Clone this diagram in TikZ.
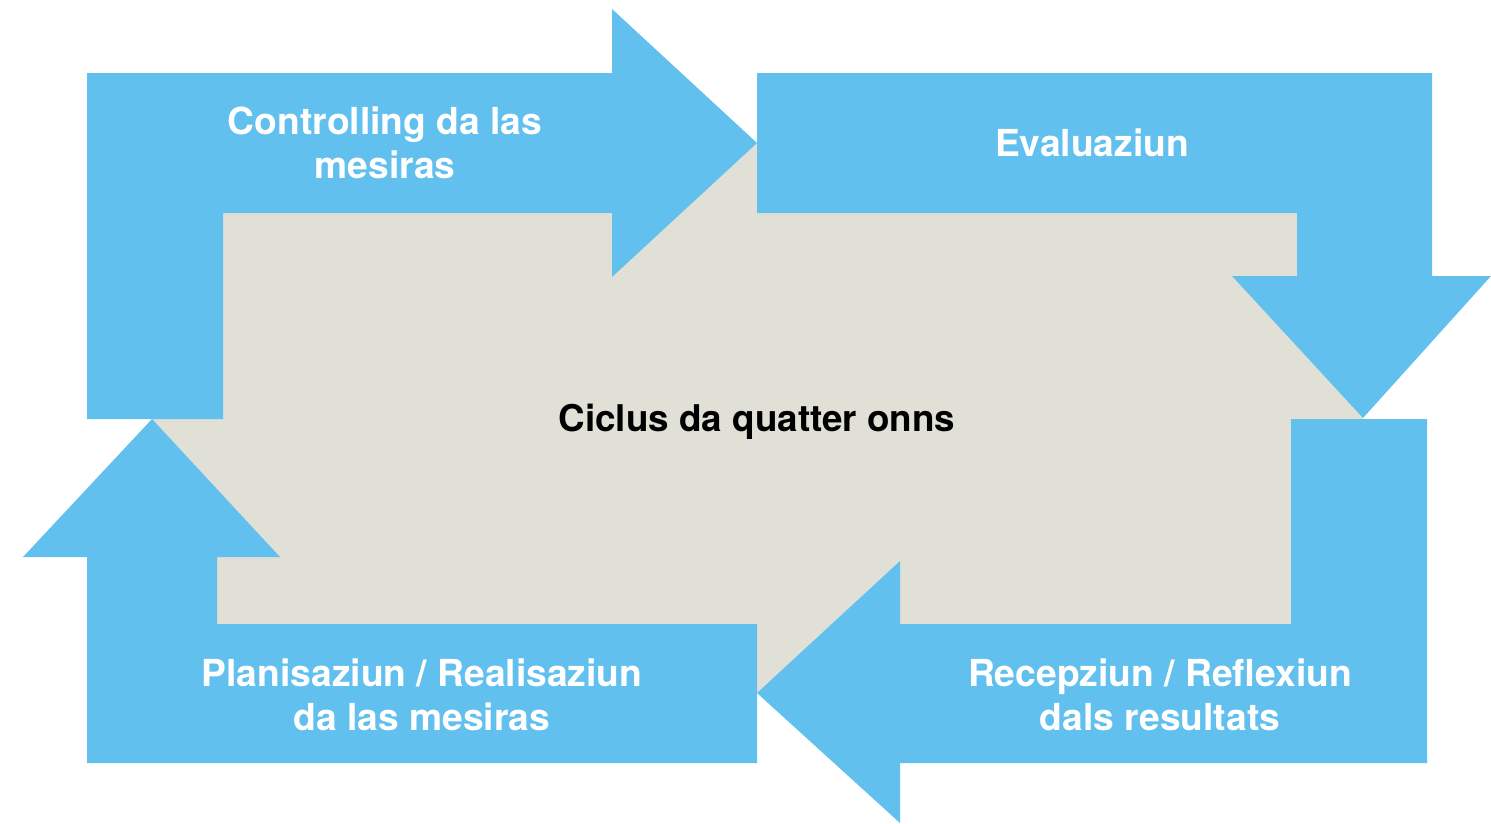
\documentclass[tikz,border=0pt]{standalone}
\usepackage{fontspec}
\setmainfont{TeX Gyre Heros}
\definecolor{arrowblue}{RGB}{98,192,238}
\definecolor{centergray}{RGB}{224,224,214}
\tikzset{
  arrowshape/.style={fill=arrowblue, draw=none},
  steplabel/.style={text=white, font=\bfseries\fontsize{37.2}{44.5}\selectfont, align=center, inner sep=0pt},
  centerlabel/.style={text=black, font=\bfseries\fontsize{36.8}{44}\selectfont, align=center, inner sep=0pt}
}
\begin{document}
\begin{tikzpicture}[x=1pt,y=-1pt]
\useasboundingbox (0,0) rectangle (1491,823);
\fill[white] (0,0) rectangle (1491,823);
% central area
\fill[centergray] (152,143) rectangle (1363,693);
% top-left arrow (right-pointing)
\fill[arrowshape] (87,419) -- (87,73) -- (612,73) -- (612,9) -- (757,143) -- (612,277) -- (612,213) -- (223,213) -- (223,419) -- cycle;
% top-right arrow (down-pointing)
\fill[arrowshape] (757,73) -- (1432,73) -- (1432,276) -- (1491,276) -- (1363,418) -- (1232,276) -- (1297,276) -- (1297,213) -- (757,213) -- cycle;
% bottom-right arrow (left-pointing)
\fill[arrowshape] (1291,419) -- (1427,419) -- (1427,763) -- (900,763) -- (900,823) -- (757,693) -- (900,561) -- (900,624) -- (1291,624) -- cycle;
% bottom-left arrow (up-pointing)
\fill[arrowshape] (757,624) -- (757,763) -- (87,763) -- (87,557) -- (23,557) -- (152,419) -- (280,557) -- (217,557) -- (217,624) -- cycle;
% labels
\node[steplabel] (controlling) at (385,143) {Controlling da las\\mesiras};
\node[steplabel] (evaluaziun) at (1092,143) {Evaluaziun};
\node[steplabel] (recepziun) at (1160,695) {Recepziun / Reflexiun\\dals resultats};
\node[steplabel] (planisaziun) at (422,695) {Planisaziun / Realisaziun\\da las mesiras};
\node[centerlabel] (ciclus) at (757,422) {Ciclus da quatter onns};
\end{tikzpicture}
\end{document}
